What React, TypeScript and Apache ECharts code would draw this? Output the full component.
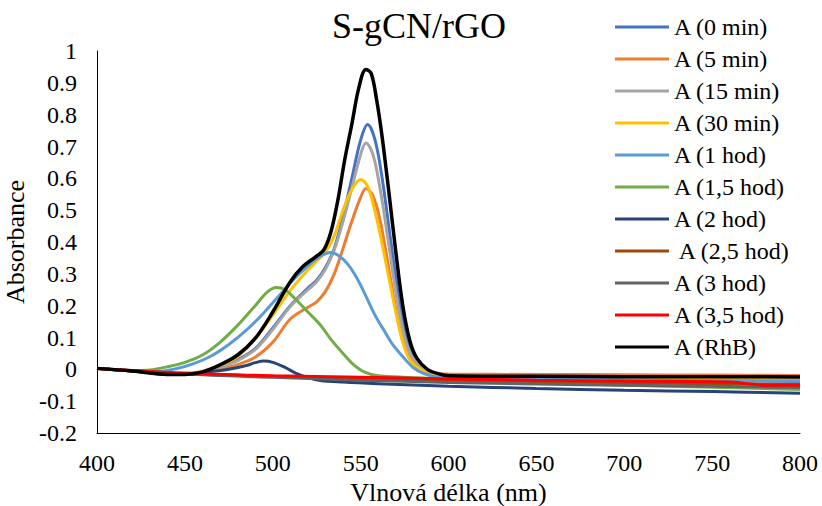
import React, { useEffect, useRef } from "react";
import * as echarts from "echarts";

const TITLE = "S-gCN/rGO";
const X_NAME = "Vlnová délka (nm)";
const Y_NAME = "Absorbance";

const NAMES = [
  "A (0 min)",
  "A (5 min)",
  "A (15 min)",
  "A (30 min)",
  "A (1 hod)",
  "A (1,5 hod)",
  "A (2 hod)",
  " A (2,5 hod)",
  "A (3 hod)",
  "A (3,5 hod)",
  "A (RhB)",
];
const COLORS = [
  "#4472C4", "#ED7D31", "#A5A5A5", "#FFC000", "#5B9BD5", "#70AD47",
  "#264478", "#9E480E", "#636363", "#FF0000", "#000000",
];

const A_0MIN: [number, number][] = [[400,0.003],[420,-0.005],[440,-0.015],[450,-0.014],[460,-0.008],[470,0.008],[480,0.03],[490,0.065],[500,0.13],[510,0.2],[520,0.255],[525,0.28],[530,0.32],[535,0.38],[540,0.48],[545,0.6],[550,0.72],[554,0.769],[558,0.725],[562,0.61],[566,0.45],[570,0.29],[574,0.15],[578,0.065],[582,0.02],[588,-0.008],[595,-0.02],[600,-0.025],[650,-0.03],[700,-0.033],[750,-0.035],[800,-0.038]];
const A_5MIN: [number, number][] = [[400,0.003],[420,-0.005],[440,-0.015],[450,-0.015],[460,-0.01],[470,0.0],[480,0.015],[490,0.038],[500,0.085],[510,0.158],[520,0.195],[525,0.212],[530,0.245],[535,0.3],[540,0.38],[545,0.465],[550,0.54],[553,0.568],[557,0.545],[561,0.47],[565,0.35],[569,0.22],[573,0.11],[577,0.045],[582,0.008],[590,-0.01],[600,-0.015],[650,-0.016],[700,-0.017],[750,-0.018],[800,-0.019]];
const A_15MIN: [number, number][] = [[400,0.003],[420,-0.005],[440,-0.015],[450,-0.015],[460,-0.009],[470,0.006],[480,0.027],[490,0.062],[500,0.125],[510,0.197],[520,0.25],[525,0.275],[530,0.315],[535,0.375],[540,0.465],[545,0.57],[550,0.675],[553,0.711],[557,0.675],[561,0.57],[565,0.43],[569,0.28],[573,0.15],[577,0.065],[582,0.02],[590,-0.01],[600,-0.025],[650,-0.03],[700,-0.033],[750,-0.035],[800,-0.036]];
const A_30MIN: [number, number][] = [[400,0.003],[420,-0.005],[440,-0.015],[450,-0.014],[460,-0.006],[470,0.012],[480,0.04],[490,0.098],[500,0.17],[510,0.248],[520,0.312],[525,0.34],[530,0.368],[535,0.42],[540,0.5],[545,0.565],[550,0.596],[554,0.575],[558,0.5],[562,0.4],[566,0.29],[570,0.18],[574,0.085],[578,0.03],[584,0.0],[590,-0.012],[600,-0.02],[650,-0.023],[700,-0.025],[750,-0.027],[800,-0.028]];
const A_1H: [number, number][] = [[400,0.003],[420,-0.004],[435,-0.006],[445,0.002],[455,0.018],[465,0.042],[475,0.078],[485,0.123],[495,0.178],[505,0.24],[512,0.283],[520,0.325],[527,0.355],[533,0.367],[538,0.355],[543,0.328],[548,0.285],[553,0.23],[558,0.172],[563,0.125],[568,0.08],[574,0.04],[580,0.005],[586,-0.013],[595,-0.025],[650,-0.03],[700,-0.033],[750,-0.035],[800,-0.037]];
const A_15H: [number, number][] = [[400,0.003],[420,-0.004],[430,-0.002],[440,0.008],[450,0.022],[460,0.045],[470,0.085],[480,0.138],[490,0.2],[497,0.243],[502,0.257],[507,0.25],[513,0.22],[520,0.18],[527,0.14],[533,0.095],[540,0.05],[546,0.015],[552,-0.008],[560,-0.02],[600,-0.03],[650,-0.04],[700,-0.05],[750,-0.056],[800,-0.063]];
const A_2H: [number, number][] = [[400,0.003],[420,-0.005],[440,-0.012],[455,-0.012],[465,-0.007],[475,0.0],[485,0.012],[490,0.021],[495,0.026],[500,0.022],[507,0.006],[513,-0.012],[520,-0.026],[527,-0.035],[540,-0.04],[560,-0.045],[600,-0.053],[650,-0.06],[700,-0.066],[750,-0.07],[800,-0.075]];
const A_25H: [number, number][] = [[400,0.003],[450,-0.013],[500,-0.022],[550,-0.03],[600,-0.034],[650,-0.038],[700,-0.042],[750,-0.045],[800,-0.048]];
const A_3H: [number, number][] = [[400,0.003],[450,-0.015],[500,-0.025],[550,-0.034],[600,-0.041],[650,-0.046],[700,-0.05],[750,-0.053],[800,-0.057]];
const A_35H: [number, number][] = [[400,0.003],[450,-0.012],[500,-0.02],[550,-0.025],[600,-0.03],[650,-0.034],[700,-0.037],[760,-0.04],[770,-0.045],[780,-0.05],[800,-0.05]];
const A_RHB: [number, number][] = [[400,0.003],[420,-0.005],[440,-0.016],[450,-0.016],[460,-0.008],[470,0.014],[480,0.045],[490,0.097],[500,0.18],[510,0.275],[517,0.322],[524,0.352],[529,0.375],[533,0.43],[537,0.53],[541,0.66],[545,0.77],[549,0.885],[553,0.942],[556,0.93],[559,0.85],[562,0.74],[566,0.56],[570,0.37],[574,0.2],[578,0.09],[582,0.035],[588,0.0],[595,-0.015],[600,-0.02],[650,-0.022],[700,-0.023],[750,-0.023],[800,-0.024]];

const SERIES_DATA = [A_0MIN, A_5MIN, A_15MIN, A_30MIN, A_1H, A_15H, A_2H, A_25H, A_3H, A_35H, A_RHB];

const FONT = "Liberation Serif";
const txt = (size: number) => ({
  fontFamily: FONT,
  fontSize: size,
  fontWeight: "normal" as const,
  fontStyle: "normal" as const,
  color: "#000",
});

export default function App() {
  const ref = useRef<HTMLDivElement>(null);
  useEffect(() => {
    if (!ref.current) return;
    const chart = echarts.init(ref.current, undefined, { renderer: "svg" });
    chart.setOption({
      animation: false,
      backgroundColor: "#ffffff",
      title: {
        text: TITLE,
        left: 327,
        top: 3,
        textStyle: txt(36),
      },
      legend: {
        orient: "vertical",
        left: 610,
        top: 10,
        icon: "rect",
        itemWidth: 54,
        itemHeight: 3,
        itemGap: 8,
        data: NAMES,
        textStyle: { ...txt(24), lineHeight: 24 },
      },
      grid: { left: 97, right: 22, top: 51, bottom: 73, containLabel: false, outerBoundsMode: "none" },
      xAxis: {
        type: "value",
        min: 400,
        max: 800,
        interval: 50,
        name: X_NAME,
        nameLocation: "middle",
        nameGap: 44,
        nameTextStyle: txt(26),
        axisLine: { show: true, onZero: false, lineStyle: { color: "#000", width: 1 } },
        axisTick: { show: false },
        splitLine: { show: false },
        axisLabel: { ...txt(24), margin: 18 },
      },
      yAxis: {
        type: "value",
        min: -0.2,
        max: 1,
        interval: 0.1,
        name: Y_NAME,
        nameLocation: "middle",
        nameGap: 58,
        nameTextStyle: txt(26),
        axisLine: { show: true, lineStyle: { color: "#000", width: 1 } },
        axisTick: { show: false },
        splitLine: { show: false },
        axisLabel: { ...txt(24), margin: 20 },
      },
      series: SERIES_DATA.map((d, i) => ({
        name: NAMES[i],
        type: "line",
        data: d,
        smooth: 0.35,
        showSymbol: false,
        symbol: "none",
        color: COLORS[i],
        lineStyle: { color: COLORS[i], width: i === 10 ? 3.5 : 3 },
      })),
    });
    return () => chart.dispose();
  }, []);
  return <div ref={ref} style={{ width: 822, height: 506, position: "absolute", left: 0, top: 0 }} />;
}
